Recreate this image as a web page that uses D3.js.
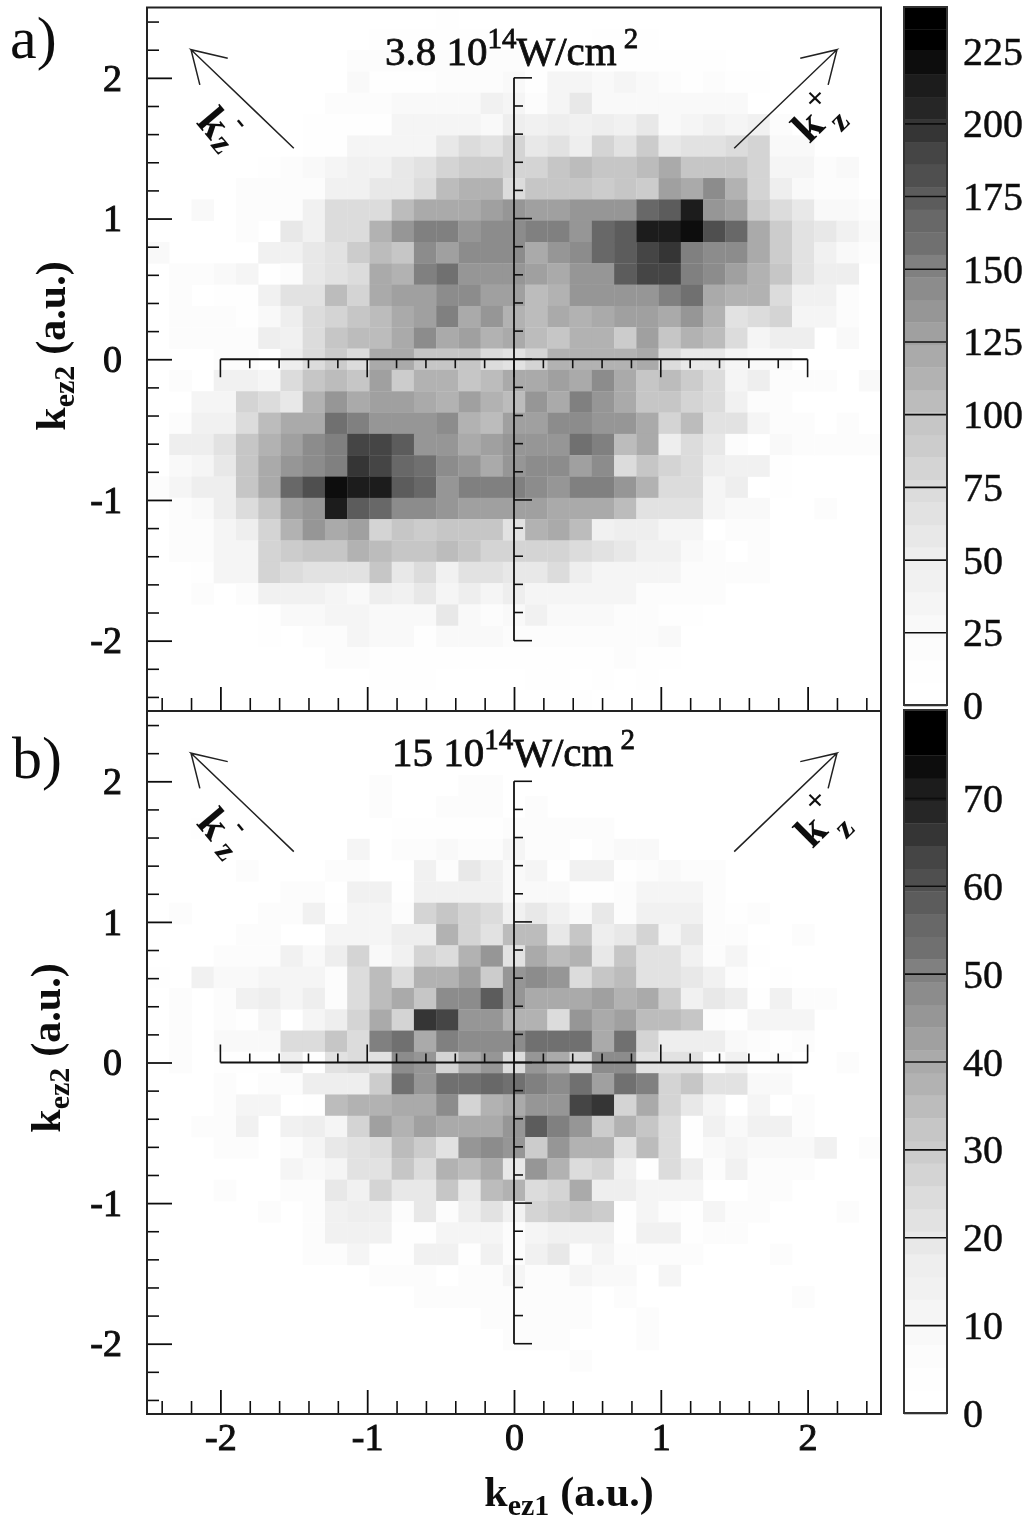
<!DOCTYPE html>
<html>
<head>
<meta charset="utf-8">
<script src="https://cdn.jsdelivr.net/npm/d3@7"></script>
<style>
    html, body { margin: 0; padding: 0; background: #fff; }
    svg { display: block; }
    text { font-family: "Liberation Serif", serif; fill: #111; }
</style>
</head>
<body>
<div id="chart"></div>
<script>
// grid has 33 x 33 bins over -2.5..2.5, rows listed from the top (k = +2.5) down
// each row: [first non-empty column, counts from there on]
const binCount = 33;

const panelACounts = [
    [13,[15]],
    [10,[12,12,12,12,12,12,0,0,0,0,10,10,10]],
    [9,[19,19,19,19,19,19,19,19,10,10,10,10,10,10,12,12,12]],
    [9,[25,12,12,12,19,19,19,27,12,35,35,25,35,25,22,12,19,10,12]],
    [8,[19,19,19,27,27,27,27,45,35,22,35,60,27,27,30,27,27,27,25]],
    [7,[12,12,12,12,38,38,35,38,27,52,43,52,43,50,45,58,25,35,43,38,45,19]],
    [7,[12,12,38,38,38,38,60,74,66,81,60,66,52,81,66,89,60,62,62,74,81,27,25]],
    [5,[12,19,25,35,45,45,60,68,81,89,89,81,81,98,106,97,97,106,120,97,98,97,81,35,38,22,25]],
    [4,[22,22,22,19,45,45,60,60,74,106,115,110,74,98,98,98,89,97,89,130,122,143,112,81,52,27,19,19]],
    [2,[25,0,22,22,22,45,74,74,74,106,120,120,120,130,138,130,130,138,135,135,166,176,213,135,130,89,76,58,27,25,19]],
    [4,[19,0,60,45,74,74,110,135,151,151,135,145,145,150,150,138,166,176,213,213,220,182,166,122,89,68,60,45,25]],
    [0,[25,0,0,0,0,45,45,60,66,89,106,98,145,128,145,143,143,123,138,145,166,174,192,197,151,145,143,122,89,66,45,27,19]],
    [1,[22,22,27,38,0,19,60,66,74,120,112,150,155,135,135,135,130,122,135,135,176,192,192,151,145,130,110,97,68,50,50,0]],
    [1,[22,0,12,12,43,68,68,105,85,123,130,130,145,145,130,128,106,115,138,135,135,135,151,160,122,115,110,74,45,45,19]],
    [1,[19,19,19,12,27,50,74,81,97,106,122,130,151,120,135,112,106,123,115,122,130,130,122,138,115,66,74,81,38,35,19]],
    [1,[19,19,19,19,52,45,74,97,106,105,123,145,122,128,112,120,106,98,115,115,89,130,98,110,105,76,38,50,50,0,25]],
    [3,[19,19,0,50,76,89,76,122,122,97,97,97,74,62,81,112,112,112,112,122,74,60,60,38,25,27]],
    [1,[22,0,45,45,35,74,97,105,97,130,89,112,112,97,105,120,120,130,122,145,123,98,106,89,74,38,50,19,19,19,0,25]],
    [2,[35,35,81,74,60,115,135,122,130,130,122,112,128,110,106,138,120,151,135,120,98,97,81,74,45,19,19]],
    [1,[19,45,45,74,106,120,122,160,151,135,135,135,145,115,106,130,130,145,145,135,135,122,81,105,66,66,38,19,19,0,19]],
    [1,[52,52,62,97,110,130,145,151,192,192,174,138,138,122,128,135,138,138,155,150,106,120,52,74,58,19,0,27,19,19,19,19]],
    [1,[25,38,58,97,122,138,145,150,197,192,166,160,145,135,122,138,145,145,128,145,76,98,85,74,52,45,45,10]],
    [0,[19,38,52,52,97,122,166,182,220,214,214,176,166,138,150,150,150,145,135,151,151,135,110,74,74,38,52,0,12]],
    [1,[19,27,52,74,97,130,135,213,174,166,145,145,138,130,130,130,130,122,122,122,106,66,66,66,38,25,25,0,0,19]],
    [1,[19,19,35,52,85,110,135,122,130,81,97,89,98,98,98,66,110,120,106,45,52,52,38,38,0,19,19]],
    [1,[22,22,38,38,81,89,97,97,115,106,98,98,106,98,81,81,85,85,76,66,60,45,45,27,22,0,19]],
    [2,[12,35,35,85,74,62,62,66,97,60,76,45,66,66,60,60,74,52,35,35,35,38,19,19,19,19]],
    [2,[19,0,22,45,43,43,35,27,52,45,60,38,52,35,50,35,35,35,38,35,19,19,19,19]],
    [5,[12,25,25,35,35,27,27,27,60,27,19,25,45,27,27,27,19,19,12,12]],
    [5,[12,0,22,22,35,25,27,12,25,25,25,19,22,22,22,22,19,19,25]],
    [8,[19,19,12,12,12,12,12,12,12,10,10,10,12,19,10,12]],
    [10,[10,10,10,0,0,0,0,10,10,0,12,0,12]],
    [19,[10]]
];

const panelBCounts = [
    [0,[]],
    [0,[]],
    [0,[]],
    [10,[6,0,0,0,7,7]],
    [10,[6,0,0,6,6,6,0,7]],
    [2,[3,0,0,0,0,0,0,0,0,4,4,4,4,4,6,6,6,6,6]],
    [9,[12,0,6,6,9,7,7,12,7,7,0,7,8,8]],
    [4,[7,0,0,0,7,7,0,0,13,7,20,14,9,12,4,13,13,4,6,9,7,7]],
    [6,[7,7,0,13,13,4,15,15,15,13,8,9,9,4,4,7,12,12,12,7]],
    [1,[7,0,0,0,6,6,13,4,12,12,7,28,32,27,25,13,20,15,9,20,7,15,15,14,7,4,6]],
    [4,[7,7,0,0,12,12,12,18,18,38,27,22,35,35,20,33,18,20,27,12,20,7,6,0,0,7]],
    [3,[6,6,6,14,9,18,27,8,15,28,25,37,46,22,41,35,37,20,32,22,22,13,7,12,3]],
    [0,[4,0,13,8,8,12,12,12,6,25,35,25,37,37,43,30,46,48,45,25,32,35,22,22,20,13,7,0,4]],
    [1,[6,0,7,14,17,12,18,6,25,35,40,32,48,49,59,46,41,41,40,43,37,41,30,13,20,18,3,15,7,7]],
    [1,[6,0,7,3,12,0,12,18,28,41,28,65,63,46,46,38,37,25,46,41,43,35,35,33,7,3,12,12,12]],
    [1,[6,0,8,8,8,25,25,33,25,50,53,41,50,48,48,48,53,53,53,41,53,27,17,17,17,8,6,4,7]],
    [1,[6,0,4,4,4,18,3,22,25,22,48,46,28,41,46,25,46,41,27,48,48,22,22,22,6,15,3,6,0,0,7]],
    [3,[6,0,6,6,18,18,18,30,53,45,53,53,55,53,50,48,52,43,53,50,28,33,22,22,8,8]],
    [3,[6,12,12,0,4,35,37,37,41,40,48,28,37,40,46,46,63,65,27,41,28,20,12,0,12,0,6]],
    [2,[7,7,15,0,15,18,12,28,43,38,43,41,41,41,46,59,50,46,30,38,32,25,4,15,9,15,13,6]],
    [3,[6,6,0,6,12,20,22,25,35,30,22,46,48,46,30,45,37,37,22,35,25,4,9,12,9,9,9,13,0,6]],
    [6,[12,8,12,22,22,32,25,37,35,41,20,46,37,25,27,15,4,25,18,7,14,7,7,7]],
    [3,[6,0,0,7,7,20,13,28,20,20,32,20,35,37,25,27,40,18,18,12,12,12,0,0,7,6]],
    [5,[6,0,7,15,17,17,6,20,7,18,22,14,27,30,32,30,4,12,7,4,12,6,6,0,0,0,6]],
    [7,[6,13,13,13,4,4,12,12,12,7,12,13,15,15,3,13,13,3,7,7]],
    [7,[6,6,12,4,4,14,14,4,13,7,13,20,6,12,6,6,7,7,0,0,0,6]],
    [10,[7,7,7,0,7,7,12,6,7,12,8,8,0,12]],
    [12,[6,6,6,6,6,6,6,7,0,6,0,0,0,0,0,0,0,6]],
    [15,[7,7,6,6,7,0,0,6]],
    [16,[6,7,7,0,0,0,6]],
    [19,[6]],
    [0,[]],
    [0,[]]
];

// shared palette, lightest band first
const grayLevels = [255,254,252,249,245,241,238,232,226,220,212,204,198,188,178,170,
                    160,150,140,128,112,104,92,80,68,52,40,26,12,0,0];

const kMajorTicks = [-2,-1,0,1,2];
const kMinorTicks = [-2.4,-2.2,-1.8,-1.6,-1.4,-1.2,-0.8,-0.6,-0.4,-0.2,
                     0.2,0.4,0.6,0.8,1.2,1.4,1.6,1.8,2.2,2.4];
const innerMinorTicks = [-1.8,-1.6,-1.4,-1.2,-0.8,-0.6,-0.4,-0.2,
                         0.2,0.4,0.6,0.8,1.2,1.4,1.6,1.8];

const panelABarTicks = [0,25,50,75,100,125,150,175,200,225];
const panelBBarTicks = [0,10,20,30,40,50,60,70];

// arrows in k coordinates
const leftArrow  = [[-1.5,1.5],[-2.2,2.2],[-1.95,2.14],[-2.2,2.2],[-2.14,1.95]];
const rightArrow = [[1.5,1.5],[2.2,2.2],[1.95,2.14],[2.2,2.2],[2.14,1.95]];

const width = 1031, height = 1526;
const x = d3.scaleLinear().domain([-2.5,2.5]).range([147,881]);
const xBins = d3.scaleBand().domain(d3.range(binCount)).range([147,881]);
const barX = 904, barW = 43;

const svg = d3.select("#chart").append("svg")
    .attr("width", width).attr("height", height)
    .attr("viewBox", `0 0 ${width} ${height}`);

svg.append("defs").append("filter").attr("id","soft")
    .append("feGaussianBlur").attr("stdDeviation",0.55);

const root = svg.append("g").attr("filter","url(#soft)");
root.append("rect").attr("width",width).attr("height",height).attr("fill","#fff");
// inner axes sit above the softened layer
const overlay = svg.append("g");

function styleAxis(sel, w) {
    sel.select(".domain").remove();
    sel.selectAll("line").attr("stroke","#111").attr("stroke-width",w);
}

function styleTickText(sel) {
    sel.selectAll("text")
        .style("font-size","38px").style("font-family","Liberation Serif")
        .style("fill","#111").style("stroke","#111").style("stroke-width",1);
}

function labelWithSub(parent, main, sub, rest) {
    parent.style("font-size","42px").style("font-weight","bold");
    parent.append("tspan").text(main);
    parent.append("tspan").attr("dy",9).style("font-size","30px").text(sub);
    parent.append("tspan").attr("dy",-9).attr("dx",11).text(rest);
}

function drawPanel(p) {
    const y = d3.scaleLinear().domain([-2.5,2.5]).range([p.bottom,p.top]);
    const yBins = d3.scaleBand().domain(d3.range(binCount)).range([p.top,p.bottom]);
    const color = d3.scaleQuantize().domain([0,p.max]).range(grayLevels);
    const g = root.append("g");

    const cells = [];
    p.counts.forEach((row, r) => row[1].forEach((v, i) => {
        if (v > 0) cells.push({ row: r, col: row[0] + i, value: v });
    }));

    g.selectAll("rect.cell")
        .data(cells)
        .join("rect").attr("class","cell")
        .attr("x", d => xBins(d.col))
        .attr("y", d => yBins(d.row))
        .attr("width", xBins.bandwidth() + 0.3)
        .attr("height", yBins.bandwidth() + 0.3)
        .attr("fill", d => d3.rgb(color(d.value),color(d.value),color(d.value)));

    // outer axes, ticks point inward
    g.append("g").attr("transform",`translate(${x(-2.5)},0)`)
        .call(d3.axisLeft(y).tickValues(kMajorTicks).tickSize(-25).tickPadding(25)
            .tickFormat(d => String(d)))
        .call(styleAxis, 1.8)
        .call(styleTickText);
    g.append("g").attr("transform",`translate(${x(-2.5)},0)`)
        .call(d3.axisLeft(y).tickValues(kMinorTicks).tickSize(-12).tickFormat(""))
        .call(styleAxis, 1.6);

    g.append("g").attr("transform",`translate(0,${p.bottom})`)
        .call(d3.axisBottom(x).tickValues(kMajorTicks).tickSize(-24).tickPadding(9)
            .tickFormat(p.xLabels ? (d => String(d)) : ""))
        .call(styleAxis, 1.8)
        .call(styleTickText);
    g.append("g").attr("transform",`translate(0,${p.bottom})`)
        .call(d3.axisBottom(x).tickValues(kMinorTicks).tickSize(-13).tickFormat(""))
        .call(styleAxis, 1.6);

    g.append("rect")
        .attr("x",x(-2.5)).attr("y",p.top)
        .attr("width",x(2.5)-x(-2.5)).attr("height",p.bottom-p.top)
        .attr("fill","none").attr("stroke","#222").attr("stroke-width",2);

    // axes through the origin, ticks from the k scales
    const dir = p.innerTicksUp ? -1 : 1;
    const inner = overlay.append("g").attr("stroke","#111");
    const innerTicks = [
        ...kMajorTicks.map(k => ({ k, len: 18 })),
        ...innerMinorTicks.map(k => ({ k, len: 9 }))
    ];
    inner.selectAll("line.ytick")
        .data(innerTicks)
        .join("line").attr("class","ytick")
        .attr("x1",x(0)).attr("x2", d => x(0) + d.len)
        .attr("y1", d => y(d.k)).attr("y2", d => y(d.k))
        .attr("stroke-width",1.6);
    inner.selectAll("line.xtick")
        .data(innerTicks)
        .join("line").attr("class","xtick")
        .attr("x1", d => x(d.k)).attr("x2", d => x(d.k))
        .attr("y1",y(0)).attr("y2", d => y(0) + dir * d.len)
        .attr("stroke-width",1.6);
    inner.append("line").attr("x1",x(0)).attr("x2",x(0))
        .attr("y1",y(2)).attr("y2",y(-2)).attr("stroke-width",1.8);
    inner.append("line").attr("x1",x(-2)).attr("x2",x(2))
        .attr("y1",y(0)).attr("y2",y(0)).attr("stroke-width",1.8);

    // k_z arrows
    const arrowLine = d3.line().x(d => x(d[0])).y(d => y(d[1]));
    [leftArrow, rightArrow].forEach(a => {
        g.append("path").attr("d",arrowLine(a))
            .attr("fill","none").attr("stroke","#222").attr("stroke-width",1.5);
    });
    p.arrowLabels.forEach(l => {
        g.append("text")
            .attr("transform",`translate(${l.x},${l.y}) rotate(${l.rotate})`)
            .attr("text-anchor","middle").attr("dy","0.35em")
            .style("font-size",l.size+"px").style("font-weight","bold")
            .text(l.text);
    });

    // title
    const title = g.append("text").attr("x",p.titleX).attr("y",p.titleY)
        .style("font-size","41px").style("stroke","#111").style("stroke-width",0.8);
    title.append("tspan").text(p.titleText + " 10");
    title.append("tspan").attr("dy",-17).style("font-size","29px").text("14");
    title.append("tspan").attr("dy",17).text("W/cm");
    title.append("tspan").attr("dy",-17).attr("dx",7).style("font-size","29px").text("2");

    // panel letter
    g.append("text").attr("x",p.letterX).attr("y",p.letterY)
        .style("font-size","60px").text(p.letter);

    // y label
    labelWithSub(g.append("text")
        .attr("transform",`translate(${p.yLabelX},${p.yLabelY}) rotate(-90)`)
        .attr("text-anchor","middle"), "k", "ez2", "(a.u.)");

    // colour bar, one rect per palette band
    const barY = d3.scaleLinear().domain([0,p.max]).range([p.barBottom,p.barTop]);
    const step = p.max / grayLevels.length;
    const bar = root.append("g");
    bar.selectAll("rect")
        .data(grayLevels.map((c, i) => ({ c, i })))
        .join("rect")
        .attr("x",barX).attr("width",barW)
        .attr("y", d => barY((d.i + 1) * step))
        .attr("height", d => barY(d.i * step) - barY((d.i + 1) * step) + 0.3)
        .attr("fill", d => d3.rgb(d.c,d.c,d.c));
    bar.append("g").attr("transform",`translate(${barX+barW},0)`)
        .call(d3.axisLeft(barY).tickValues(p.barTicks).tickSize(barW).tickFormat(""))
        .call(styleAxis, 1.6);
    bar.append("rect").attr("x",barX).attr("y",p.barTop)
        .attr("width",barW).attr("height",p.barBottom-p.barTop)
        .attr("fill","none").attr("stroke","#333").attr("stroke-width",2);
    bar.selectAll("text.barlabel")
        .data(p.barTicks)
        .join("text").attr("class","barlabel")
        .attr("x",963).attr("y", d => barY(d)).attr("dy","0.35em")
        .style("font-size","40px").style("stroke","#111").style("stroke-width",0.5)
        .text(d => d);
}

drawPanel({
    counts: panelACounts, max: 240, top: 7.5, bottom: 711,
    barTop: 7, barBottom: 705, barTicks: panelABarTicks,
    titleText: "3.8", titleX: 385, titleY: 65,
    letter: "a)", letterX: 10, letterY: 58,
    yLabelX: 65, yLabelY: 346,
    innerTicksUp: false, xLabels: false,
    arrowLabels: [
        { text: "k", x: 215, y: 122, rotate: 50, size: 44 },
        { text: "z", x: 223, y: 143, rotate: 50, size: 32 },
        { text: "-", x: 243, y: 121, rotate: 50, size: 30 },
        { text: "k", x: 807, y: 125, rotate: -45, size: 44 },
        { text: "z", x: 838, y: 120, rotate: -45, size: 32 },
        { text: "×", x: 815, y: 97, rotate: 0, size: 30 }
    ]
});

drawPanel({
    counts: panelBCounts, max: 80, top: 711, bottom: 1414,
    barTop: 710, barBottom: 1413, barTicks: panelBBarTicks,
    titleText: "15", titleX: 392, titleY: 766,
    letter: "b)", letterX: 12, letterY: 778,
    yLabelX: 60, yLabelY: 1048,
    innerTicksUp: true, xLabels: true,
    arrowLabels: [
        { text: "k", x: 215, y: 823, rotate: 50, size: 44 },
        { text: "z", x: 227, y: 850, rotate: 50, size: 32 },
        { text: "-", x: 243, y: 825, rotate: 50, size: 30 },
        { text: "k", x: 810, y: 830, rotate: -45, size: 44 },
        { text: "z", x: 843, y: 827, rotate: -45, size: 32 },
        { text: "×", x: 815, y: 799, rotate: 0, size: 30 }
    ]
});

labelWithSub(root.append("text").attr("x",569).attr("y",1506).attr("text-anchor","middle"),
    "k", "ez1", "(a.u.)");
</script>
</body>
</html>
